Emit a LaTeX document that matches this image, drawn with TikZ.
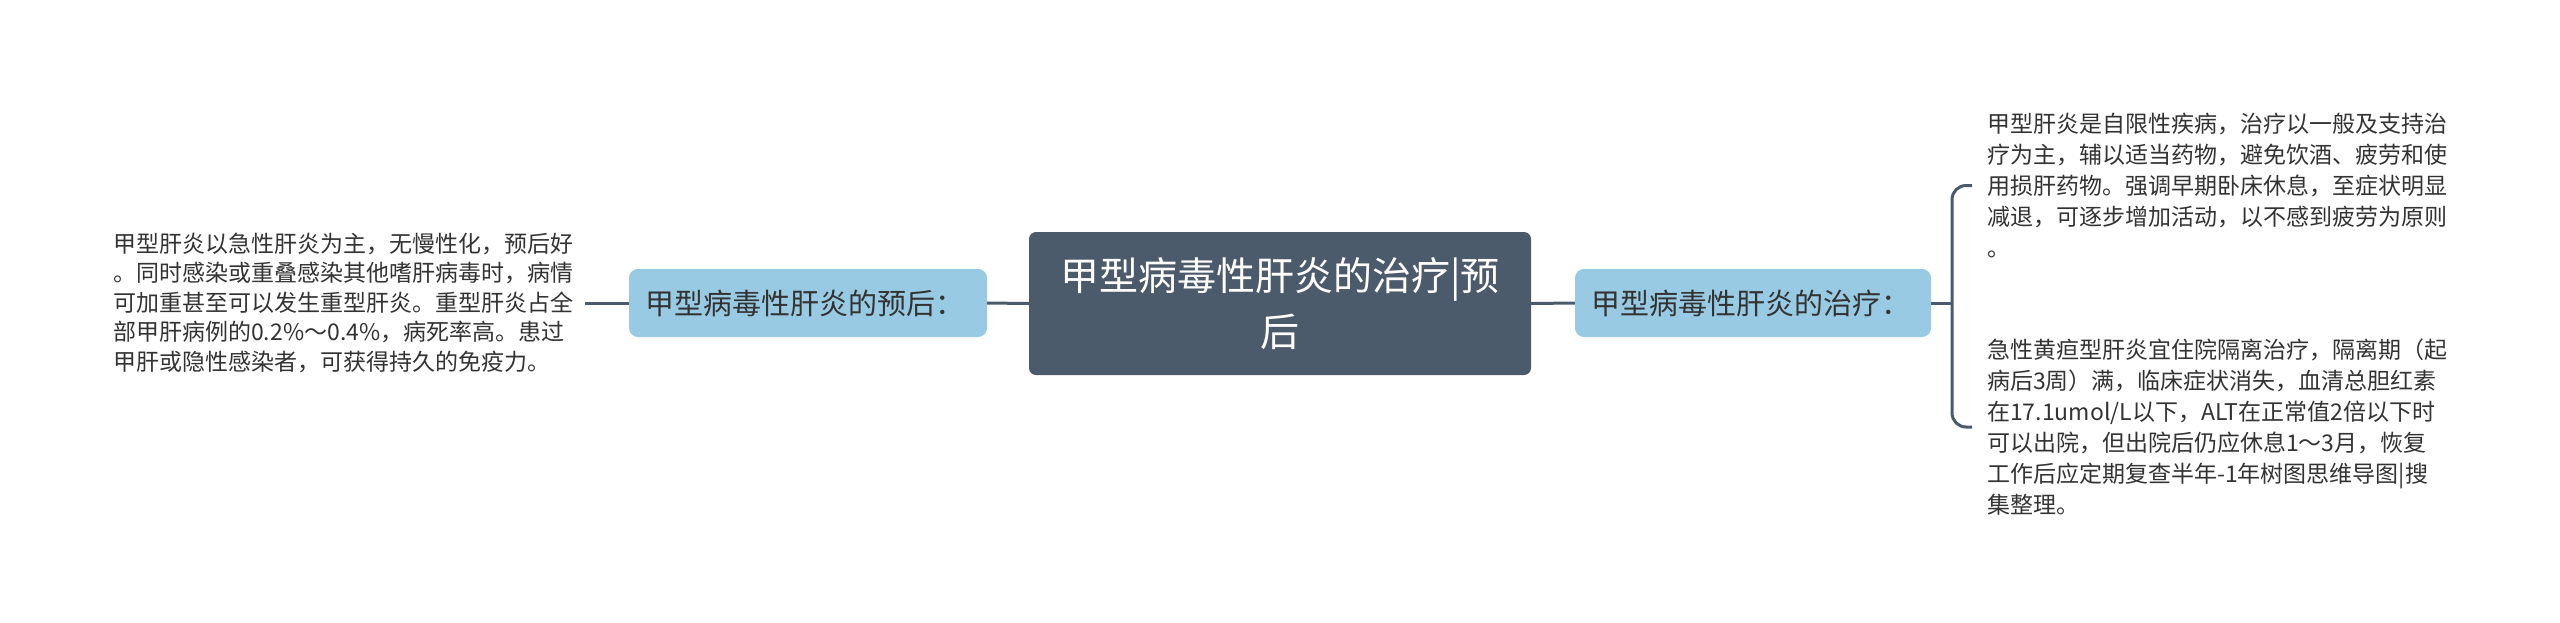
\documentclass[tikz,border=0pt]{standalone}
\usepackage{fontspec}
\newfontfamily\cjk{Noto Sans CJK SC}
\definecolor{slate}{HTML}{4B5B6B}
\definecolor{skyblue}{HTML}{98CBE3}
\definecolor{inkgray}{HTML}{333333}
\tikzset{
  conn/.style={draw=slate, line width=3pt},
  rootbox/.style={fill=slate, rounded corners=7pt, minimum width=502pt, minimum height=143pt,
    inner sep=0pt, align=center, text=white, font=\cjk\fontsize{39}{56}\selectfont},
  branchbox/.style={fill=skyblue, rounded corners=9pt, minimum height=68pt,
    inner ysep=0pt, inner xsep=16pt, align=left, text=inkgray, font=\cjk\fontsize{29}{34}\selectfont},
  leaftext/.style={inner ysep=0pt, align=left, text=inkgray}
}
\begin{document}
\begin{tikzpicture}[x=1pt,y=1pt]
\useasboundingbox[fill=white] (0,0) rectangle (2560,-622);
\node[rootbox] (root) at (1280,-303.5) {甲型病毒性肝炎的治疗|预\\后};
\node[branchbox, text width=326pt] (lb) at (808,-303) {甲型病毒性肝炎的预后：};
\node[branchbox, text width=324pt] (rb) at (1753,-303) {甲型病毒性肝炎的治疗：};
\node[leaftext, inner xsep=12pt, anchor=west, font=\cjk\fontsize{23}{29.5}\selectfont] (lt) at (101,-303) {甲型肝炎以急性肝炎为主，无慢性化，预后好\\。同时感染或重叠感染其他嗜肝病毒时，病情\\可加重甚至可以发生重型肝炎。重型肝炎占全\\部甲肝病例的0.2\%～0.4\%，病死率高。患过\\甲肝或隐性感染者，可获得持久的免疫力。};
\node[leaftext, inner xsep=15pt, anchor=west, font=\cjk\fontsize{23}{31}\selectfont] (r1) at (1972,-185.5) {甲型肝炎是自限性疾病，治疗以一般及支持治\\疗为主，辅以适当药物，避免饮酒、疲劳和使\\用损肝药物。强调早期卧床休息，至症状明显\\减退，可逐步增加活动，以不感到疲劳为原则\\。};
\node[leaftext, inner xsep=15pt, anchor=west, font=\cjk\fontsize{23}{31}\selectfont] (r2) at (1972,-427) {急性黄疸型肝炎宜住院隔离治疗，隔离期（起\\病后3周）满，临床症状消失，血清总胆红素\\在17.1umol/L以下，ALT在正常值2倍以下时\\可以出院，但出院后仍应休息1～3月，恢复\\工作后应定期复查半年-1年树图思维导图|搜\\集整理。};
\coordinate (bj) at (1952,-303);
\draw[conn] (root.west) -- (lb.east);
\draw[conn] (lb.west) -- (lb.west -| lt.east);
\draw[conn] (root.east) -- (rb.west);
\draw[conn] (rb.east) -- (bj);
\draw[conn, rounded corners=14pt] (r1.west) -| (bj) |- (r2.west);
\end{tikzpicture}
\end{document}
